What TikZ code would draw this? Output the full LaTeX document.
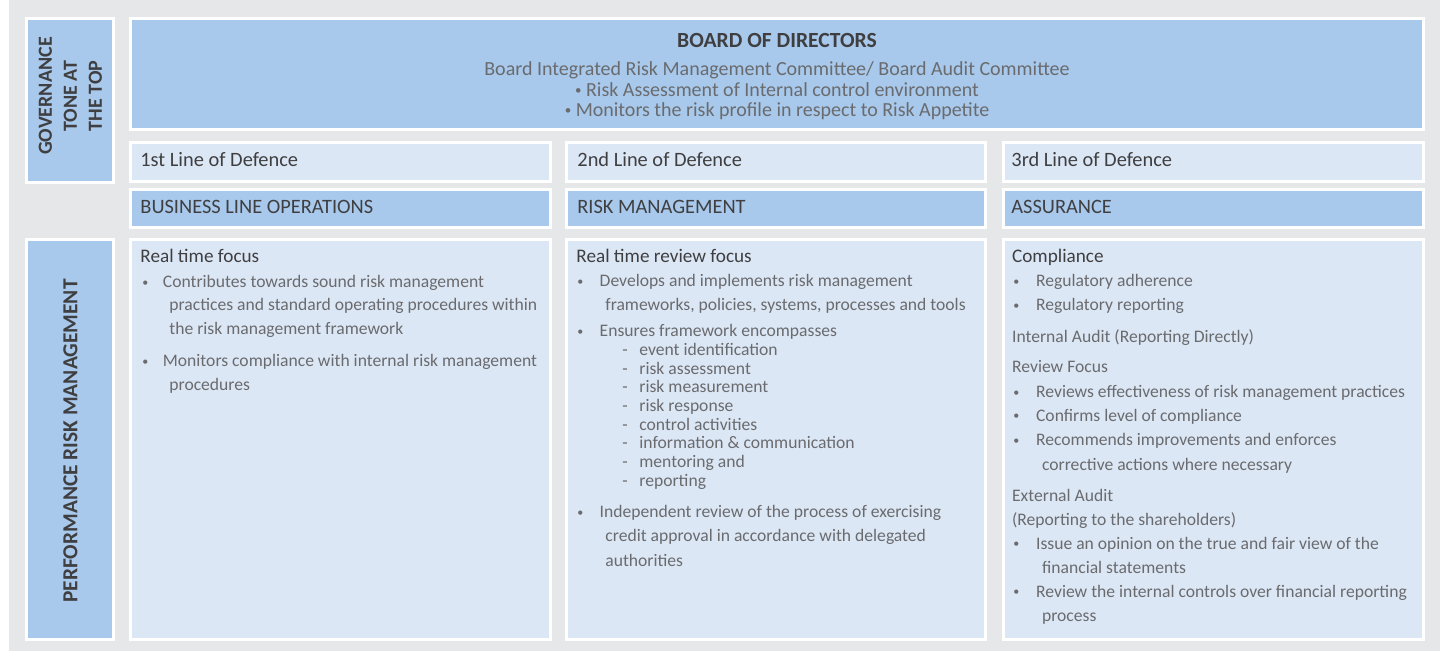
\documentclass[tikz,border=0pt]{standalone}
\usepackage{fontspec}
\setmainfont{Carlito}
\definecolor{bggray}{HTML}{E6E7E8}
\definecolor{darkblue}{HTML}{A8C9EB}
\definecolor{lightblue}{HTML}{DCE7F5}
\definecolor{headtxt}{HTML}{3F3F41}
\definecolor{bodytxt}{HTML}{6A6B6E}
\newcounter{lnc}
\newcommand\putline[3]{\stepcounter{lnc}\node[#1] (ln\arabic{lnc}) at #2 {#3};}
\newcommand\smallbul{\raisebox{1pt}{\fontsize{6.5}{8}\selectfont •}}
\begin{document}
\begin{tikzpicture}[x=0.5pt,y=-0.5pt,
  darkbox/.style={fill=darkblue,draw=white,line width=1.3pt},
  lightbox/.style={fill=lightblue,draw=white,line width=1.3pt},
  vlabel/.style={rotate=90,align=center,text=headtxt,inner sep=0pt,
    font=\bfseries\fontsize{10}{12.5}\selectfont},
  bigtxt/.style={anchor=base west,inner sep=0pt,text=headtxt,font=\fontsize{10.2}{12}\selectfont},
  boardtitle/.style={anchor=base,inner sep=0pt,text=headtxt,font=\bfseries\fontsize{10.8}{12}\selectfont},
  boardtxt/.style={anchor=base,inner sep=0pt,text=bodytxt,font=\fontsize{10}{12}\selectfont},
  headtxtst/.style={anchor=base west,inner sep=0pt,text=headtxt,font=\fontsize{9.6}{11}\selectfont},
  bodytxtst/.style={anchor=base west,inner sep=0pt,text=bodytxt,font=\fontsize{8.8}{11}\selectfont},
  bul/.style={anchor=base west,inner sep=0pt,text=bodytxt,font=\fontsize{6}{8}\selectfont,yshift=0.8pt}
]
\useasboundingbox (0,0) rectangle (1440,651);
\fill[bggray] (9,0) rectangle (1440,651);

% left labels
\path[darkbox] (26.3,18.3) rectangle (113.7,182.7);
\path[darkbox] (26.3,239.3) rectangle (113.7,639.7);
\node[vlabel] (gov) at (70.5,96) {GOVERNANCE\\TONE AT\\THE TOP};
\node[vlabel,font=\bfseries\fontsize{10.7}{12.5}\selectfont] (perf) at (70.5,441) {PERFORMANCE RISK MANAGEMENT};

% board
\path[darkbox] (130.3,18.3) rectangle (1423.7,129.7);
\node[boardtitle] (board) at (777,47.7) {BOARD OF DIRECTORS};
\node[boardtxt] (b1) at (777,76) {Board Integrated Risk Management Committee/ Board Audit Committee};
\node[boardtxt] (b2) at (777,96.7) {\smallbul\ Risk Assessment of Internal control environment};
\node[boardtxt] (b3) at (777,117) {\smallbul\ Monitors the risk profile in respect to Risk Appetite};

% lines of defence
\path[lightbox] (130.3,142.3) rectangle (550.7,181.7);
\path[lightbox] (566.3,142.3) rectangle (985.7,181.7);
\path[lightbox] (1003.3,142.3) rectangle (1423.7,181.7);
\node[bigtxt] (l1) at (140,166.7) {1st Line of Defence};
\node[bigtxt] (l2) at (577,166.7) {2nd Line of Defence};
\node[bigtxt] (l3) at (1011,166.7) {3rd Line of Defence};

% headers
\path[darkbox] (130.3,189.3) rectangle (550.7,227.7);
\path[darkbox] (566.3,189.3) rectangle (985.7,227.7);
\path[darkbox] (1003.3,189.3) rectangle (1423.7,227.7);
\node[bigtxt] (h1) at (140,213.3) {BUSINESS LINE OPERATIONS};
\node[bigtxt] (h2) at (577,213.3) {RISK MANAGEMENT};
\node[bigtxt] (h3) at (1011,213.3) {ASSURANCE};

% content boxes
\path[lightbox] (130.3,239.3) rectangle (550.7,639.7);
\path[lightbox] (566.3,239.3) rectangle (985.7,639.7);
\path[lightbox] (1003.3,239.3) rectangle (1423.7,639.7);

% column 1
\putline{headtxtst}{(140,262.5)}{Real time focus}
\putline{bul}{(142,288)}{•}
\putline{bodytxtst}{(162.5,288)}{Contributes towards sound risk management}
\putline{bodytxtst}{(169,311)}{practices and standard operating procedures within}
\putline{bodytxtst}{(169,334.5)}{the risk management framework}
\putline{bul}{(142,367)}{•}
\putline{bodytxtst}{(162.5,367)}{Monitors compliance with internal risk management}
\putline{bodytxtst}{(169,391)}{procedures}

% column 2
\putline{headtxtst}{(576,262.5)}{Real time review focus}
\putline{bul}{(577,287)}{•}
\putline{bodytxtst}{(599.3,287)}{Develops and implements risk management}
\putline{bodytxtst}{(605,311)}{frameworks, policies, systems, processes and tools}
\putline{bul}{(577,337)}{•}
\putline{bodytxtst}{(599.3,337)}{Ensures framework encompasses}
\putline{bodytxtst}{(622,355.3)}{-}
\putline{bodytxtst}{(639,355.3)}{event identification}
\putline{bodytxtst}{(622,374.6)}{-}
\putline{bodytxtst}{(639,374.6)}{risk assessment}
\putline{bodytxtst}{(622,393)}{-}
\putline{bodytxtst}{(639,393)}{risk measurement}
\putline{bodytxtst}{(622,412)}{-}
\putline{bodytxtst}{(639,412)}{risk response}
\putline{bodytxtst}{(622,431)}{-}
\putline{bodytxtst}{(639,431)}{control activities}
\putline{bodytxtst}{(622,448.6)}{-}
\putline{bodytxtst}{(639,448.6)}{information \& communication}
\putline{bodytxtst}{(622,467.6)}{-}
\putline{bodytxtst}{(639,467.6)}{mentoring and}
\putline{bodytxtst}{(622,487)}{-}
\putline{bodytxtst}{(639,487)}{reporting}
\putline{bul}{(577,518)}{•}
\putline{bodytxtst}{(599.3,518)}{Independent review of the process of exercising}
\putline{bodytxtst}{(605,542)}{credit approval in accordance with delegated}
\putline{bodytxtst}{(605,566.3)}{authorities}

% column 3
\putline{headtxtst}{(1011.7,262.5)}{Compliance}
\putline{bul}{(1013,287)}{•}
\putline{bodytxtst}{(1035.7,287)}{Regulatory adherence}
\putline{bul}{(1013,311)}{•}
\putline{bodytxtst}{(1035.7,311)}{Regulatory reporting}
\putline{bodytxtst}{(1011.7,343)}{Internal Audit (Reporting Directly)}
\putline{bodytxtst}{(1011.7,373)}{Review Focus}
\putline{bul}{(1013,398)}{•}
\putline{bodytxtst}{(1035.7,398)}{Reviews effectiveness of risk management practices}
\putline{bul}{(1013,421.3)}{•}
\putline{bodytxtst}{(1035.7,421.3)}{Confirms level of compliance}
\putline{bul}{(1013,446)}{•}
\putline{bodytxtst}{(1035.7,446)}{Recommends improvements and enforces}
\putline{bodytxtst}{(1041.7,470.3)}{corrective actions where necessary}
\putline{bodytxtst}{(1011.7,502)}{External Audit}
\putline{bodytxtst}{(1011.7,525.3)}{(Reporting to the shareholders)}
\putline{bul}{(1013,549.6)}{•}
\putline{bodytxtst}{(1035.7,549.6)}{Issue an opinion on the true and fair view of the}
\putline{bodytxtst}{(1041.7,573.6)}{financial statements}
\putline{bul}{(1013,597.6)}{•}
\putline{bodytxtst}{(1035.7,597.6)}{Review the internal controls over financial reporting}
\putline{bodytxtst}{(1041.7,622)}{process}
\end{tikzpicture}
\end{document}
